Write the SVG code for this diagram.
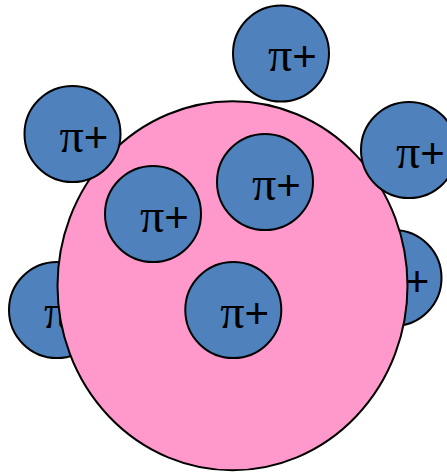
<svg xmlns="http://www.w3.org/2000/svg" width="447" height="472" viewBox="0 0 447 472">
<style>
.pion circle{fill:#4F81BD;stroke:#000;stroke-width:2}
.pion text{fill:#000}
.pi{font-family:"Liberation Serif","Times New Roman",serif;font-size:48px}
.pl{font-family:"Liberation Sans",Arial,sans-serif;font-size:42px}
.nuc{fill:#FF99CC;stroke:#000;stroke-width:2}
</style>
<rect width="447" height="472" fill="#fff"/>
<g id="pion-left-bottom" class="pion"><circle cx="57" cy="310" r="48"/><text x="44" y="327.5"><tspan class="pi">π</tspan><tspan class="pl">+</tspan></text></g>
<g id="pion-right-bottom" class="pion"><circle cx="393.5" cy="278" r="48"/><text x="380.5" y="295.5"><tspan class="pi">π</tspan><tspan class="pl">+</tspan></text></g>
<g id="nucleus"><ellipse class="nuc" cx="232.5" cy="285.8" rx="175" ry="184.5"/></g>
<g id="pion-top" class="pion"><circle cx="281" cy="53.5" r="48"/><text x="268" y="71"><tspan class="pi">π</tspan><tspan class="pl">+</tspan></text></g>
<g id="pion-left-top" class="pion"><circle cx="72.5" cy="134" r="48"/><text x="59.5" y="151.5"><tspan class="pi">π</tspan><tspan class="pl">+</tspan></text></g>
<g id="pion-right" class="pion"><circle cx="409" cy="150" r="48"/><text x="396" y="167.5"><tspan class="pi">π</tspan><tspan class="pl">+</tspan></text></g>
<g id="pion-inner-1" class="pion"><circle cx="265" cy="182" r="48"/><text x="252" y="199.5"><tspan class="pi">π</tspan><tspan class="pl">+</tspan></text></g>
<g id="pion-inner-2" class="pion"><circle cx="153" cy="214" r="48"/><text x="140" y="231.5"><tspan class="pi">π</tspan><tspan class="pl">+</tspan></text></g>
<g id="pion-inner-3" class="pion"><circle cx="233.3" cy="310" r="48"/><text x="220.3" y="327.5"><tspan class="pi">π</tspan><tspan class="pl">+</tspan></text></g>
<g id="connectors"/>
</svg>
